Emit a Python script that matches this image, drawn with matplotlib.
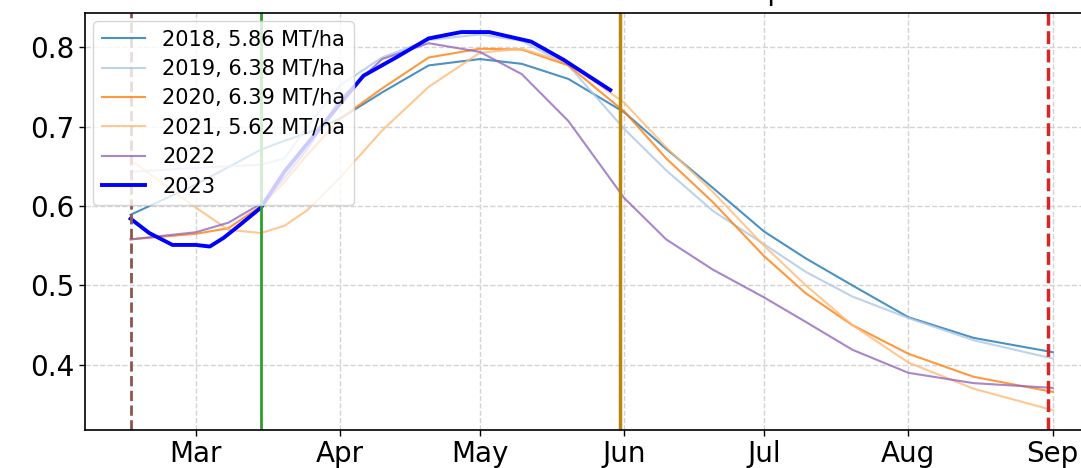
import matplotlib
matplotlib.use('Agg')
import matplotlib.pyplot as plt
import matplotlib.dates as mdates
import pandas as pd

# all seasons are drawn on the 2023 calendar
hist_dates = ['2023-02-15', '2023-03-01', '2023-03-08', '2023-03-15', '2023-03-20',
              '2023-03-25', '2023-04-01', '2023-04-10', '2023-04-20', '2023-05-01',
              '2023-05-10', '2023-05-20', '2023-06-01', '2023-06-10', '2023-06-20',
              '2023-07-01', '2023-07-10', '2023-07-20', '2023-08-01', '2023-08-15',
              '2023-09-01']

ndvi_2018 = [0.589, 0.627, 0.649, 0.671, 0.682, 0.692, 0.710, 0.743, 0.777, 0.785,
             0.779, 0.760, 0.718, 0.672, 0.623, 0.568, 0.534, 0.500, 0.460, 0.434, 0.416]
ndvi_2019 = [0.643, 0.648, 0.650, 0.652, 0.660, 0.700, 0.752, 0.787, 0.809, 0.816,
             0.808, 0.777, 0.697, 0.645, 0.594, 0.552, 0.517, 0.486, 0.459, 0.431, 0.408]
ndvi_2020 = [0.558, 0.565, 0.572, 0.600, 0.630, 0.665, 0.710, 0.748, 0.787, 0.798,
             0.797, 0.777, 0.719, 0.660, 0.605, 0.537, 0.490, 0.450, 0.414, 0.385, 0.366]
ndvi_2021 = [0.658, 0.598, 0.570, 0.566, 0.575, 0.595, 0.636, 0.695, 0.750, 0.793,
             0.798, 0.780, 0.730, 0.674, 0.618, 0.550, 0.500, 0.450, 0.403, 0.370, 0.343]
ndvi_2022 = [0.558, 0.567, 0.579, 0.603, 0.635, 0.672, 0.735, 0.785, 0.805, 0.794,
             0.766, 0.707, 0.610, 0.558, 0.520, 0.485, 0.454, 0.419, 0.390, 0.377, 0.371]

dates_2023 = ['2023-02-15', '2023-02-19', '2023-02-24', '2023-02-27', '2023-03-01',
              '2023-03-04', '2023-03-07', '2023-03-10', '2023-03-15', '2023-03-20',
              '2023-03-26', '2023-04-02', '2023-04-06', '2023-04-13', '2023-04-20',
              '2023-04-27', '2023-05-03', '2023-05-12', '2023-05-19', '2023-05-29']
ndvi_2023 = [0.584, 0.566, 0.551, 0.551, 0.551, 0.549, 0.560, 0.574, 0.598, 0.643,
             0.686, 0.736, 0.764, 0.787, 0.811, 0.819, 0.819, 0.807, 0.784, 0.746]

labels = ['2018, 5.86 MT/ha', '2019, 6.38 MT/ha', '2020, 6.39 MT/ha', '2021, 5.62 MT/ha', '2022']
colors = ['#1f77b4', '#aec7e8', '#ff7f0e', '#ffbb78', '#9467bd']

# season markers
sow_date = '2023-02-15'
emerge_date = '2023-03-15'
mid_date = '2023-05-31'
harvest_date = '2023-08-31'

fig = plt.figure(figsize=(10.81, 4.68), dpi=100)
ax = fig.add_axes([85 / 1081, 38 / 468, (1095 - 85) / 1081, (455 - 38) / 468])

x_hist = pd.to_datetime(hist_dates)
for vals, lab, col in zip([ndvi_2018, ndvi_2019, ndvi_2020, ndvi_2021, ndvi_2022], labels, colors):
    ax.plot(x_hist, vals, color=col, lw=1.5, alpha=0.8, label=lab)
ax.plot(pd.to_datetime(dates_2023), ndvi_2023, color='blue', lw=2.8, label='2023')

ax.axvline(pd.Timestamp(sow_date), color='tab:brown', ls='--', lw=2)
ax.axvline(pd.Timestamp(emerge_date), color='tab:green', lw=2)
ax.axvline(pd.Timestamp(mid_date), color='darkgoldenrod', lw=2.5)
ax.axvline(pd.Timestamp(harvest_date), color='tab:red', ls='--', lw=2.5)

ax.set_xlim(pd.Timestamp('2023-02-05 05:00'), pd.Timestamp('2023-09-10 02:00'))
ax.set_ylim(0.318, 0.843)
ax.set_yticks([0.4, 0.5, 0.6, 0.7, 0.8])
ax.xaxis.set_major_locator(mdates.MonthLocator())
ax.xaxis.set_major_formatter(mdates.DateFormatter('%b'))
ax.tick_params(labelsize=20, length=4, width=1)
ax.grid(True, color='#d3d3d3', ls='--', lw=1)
for s in ax.spines.values():
    s.set_linewidth(1.2)

ax.legend(loc='upper left', fontsize=15, framealpha=0.8, handlelength=2.1,
          borderaxespad=0.4, labelspacing=0.45)

# title sits mostly above the visible area
fig.text(580 / 1081, 1 + 0.5 / 468, 'NDVI Time Series over Wheat Crop Area',
         ha='center', va='baseline', fontsize=20)

plt.savefig('out.png', dpi=100)
